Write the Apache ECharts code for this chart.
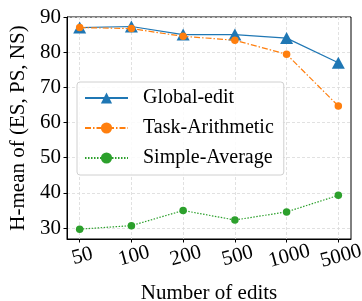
<!DOCTYPE html>
<html><head><meta charset="utf-8">
<script src="https://cdn.jsdelivr.net/npm/echarts@6/dist/echarts.min.js"></script>
<style>html,body{margin:0;padding:0;background:#fff}#c{width:362px;height:301px}</style>
</head><body><div id="c"></div>
<script>
const categories = ['50', '100', '200', '500', '1000', '5000'];
const globalEdit = [87.0, 87.3, 85.0, 85.0, 84.0, 77.0];
const taskArithmetic = [87.0, 86.7, 84.5, 83.4, 79.4, 64.7];
const simpleAverage = [29.7, 30.7, 35.0, 32.3, 34.6, 39.3];
const yTicks = [30, 40, 50, 60, 70, 80, 90];

const toPts = arr => arr.map((v, i) => [i, v]);
const xIdx = categories.map((c, i) => i);
const font = 'Liberation Serif';
const chart = echarts.init(document.getElementById('c'), null, {renderer: 'canvas'});
chart.setOption({
  animation: false,
  backgroundColor: '#fff',
  grid: {left: 67, right: 11, top: 17, bottom: 62, containLabel: false, outerBoundsMode: 'none',
    show: true, borderColor: '#000', borderWidth: 1},
  legend: {
    left: 77, top: 82, orient: 'vertical', itemWidth: 43, itemHeight: 14, itemGap: 10,
    padding: [6, 10, 7, 7],
    backgroundColor: 'rgba(255,255,255,0.85)', borderColor: '#d0d0d0', borderWidth: 1, borderRadius: 3,
    textStyle: {fontFamily: font, fontSize: 20, color: '#000', padding: [0, 0, 0, 10]},
    data: ['Global-edit', 'Task-Arithmetic', 'Simple-Average']
  },
  xAxis: {
    type: 'value', min: -0.245, max: 5.245,
    name: 'Number of edits', nameLocation: 'middle', nameGap: 44,
    nameTextStyle: {fontFamily: font, fontSize: 21, color: '#000'},
    axisLine: {show: true, onZero: false, lineStyle: {color: '#000'}},
    axisTick: {show: true, length: 3.5, lineStyle: {color: '#000'}, customValues: xIdx},
    axisLabel: {fontFamily: font, fontSize: 21, color: '#000', rotate: 15, margin: 7,
      align: 'center', verticalAlign: 'top',
      customValues: xIdx,
      formatter: v => categories[Math.round(v)] ?? ''},
    splitLine: {show: true, lineStyle: {color: '#d9d9d9', type: [3, 2], width: 0.8}}
  },
  yAxis: {
    type: 'value', min: 26.9, max: 90,
    name: 'H-mean of (ES, PS, NS)', nameLocation: 'middle', nameGap: 32,
    nameTextStyle: {fontFamily: font, fontSize: 21, color: '#000'},
    axisLine: {show: true, onZero: false, lineStyle: {color: '#000'}},
    axisTick: {show: true, length: 3.5, lineStyle: {color: '#000'}, customValues: yTicks},
    axisLabel: {fontFamily: font, fontSize: 21, color: '#000', margin: 6, customValues: yTicks},
    splitLine: {show: true, lineStyle: {color: '#d9d9d9', type: [3, 2], width: 0.8}}
  },
  series: [
    {name: 'Global-edit', type: 'line', data: toPts(globalEdit), symbol: 'triangle', symbolSize: [13, 12],
     color: '#1f77b4', lineStyle: {width: 1.2, color: '#1f77b4'}, itemStyle: {color: '#1f77b4'}, z: 3},
    {name: 'Task-Arithmetic', type: 'line', data: toPts(taskArithmetic), symbol: 'circle', symbolSize: 7.5,
     color: '#ff7f0e', lineStyle: {width: 1.2, color: '#ff7f0e', type: [6, 2, 1.5, 2]}, itemStyle: {color: '#ff7f0e'}, z: 4},
    {name: 'Simple-Average', type: 'line', data: toPts(simpleAverage), symbol: 'circle', symbolSize: 7.5,
     color: '#2ca02c', lineStyle: {width: 1.2, color: '#2ca02c', type: [1.5, 1.5]}, itemStyle: {color: '#2ca02c'}, z: 4}
  ]
});
</script></body></html>
